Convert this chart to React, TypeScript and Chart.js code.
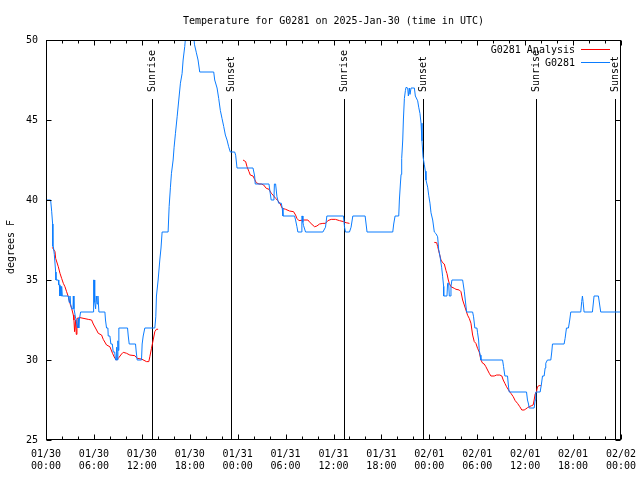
import React, { useEffect, useRef } from 'react';
import { Chart, registerables } from 'chart.js';

Chart.register(...registerables);

const FONT = '"DejaVu Sans Mono", "Liberation Mono", monospace';

const chartTitle = 'Temperature for G0281 on 2025-Jan-30 (time in UTC)';
const yAxisTitle = 'degrees F';

// x tick labels every 6 hours starting 01/30 00:00 UTC
const xTickLabels: string[][] = [
  ['01/30', '00:00'], ['01/30', '06:00'], ['01/30', '12:00'], ['01/30', '18:00'],
  ['01/31', '00:00'], ['01/31', '06:00'], ['01/31', '12:00'], ['01/31', '18:00'],
  ['02/01', '00:00'], ['02/01', '06:00'], ['02/01', '12:00'], ['02/01', '18:00'],
  ['02/02', '00:00'],
];

// sun events (hours since 01/30 00:00 UTC)
const eventLabels = ['Sunrise', 'Sunset', 'Sunrise', 'Sunset', 'Sunrise', 'Sunset'];
const eventHours = [13.31, 23.17, 37.35, 47.25, 61.36, 71.25];

// G0281 observations: [hours, degF]
const obsG0281: [number, number][] = [
  [0.0, 40], [0.58, 40], [0.71, 39.3], [0.83, 38.5], [0.86, 37.1], [0.92, 37.1], [1.04, 36.6],
  [1.21, 35.5], [1.25, 35], [1.54, 35], [1.6, 34.7], [1.67, 34.7], [1.75, 34], [1.83, 34.6],
  [1.9, 34], [1.96, 34.6], [2.04, 34], [2.79, 34], [2.9, 33.6], [3.0, 34], [3.08, 33.5],
  [3.21, 33.2], [3.38, 33.2], [3.42, 34], [3.5, 33.2], [3.58, 33], [3.71, 32.6], [3.96, 32],
  [4.04, 32.6], [4.1, 32], [4.17, 32.5], [4.33, 33], [5.92, 33], [5.96, 35], [6.04, 35],
  [6.1, 33.6], [6.21, 33.2], [6.3, 34], [6.4, 33.5], [6.5, 34], [6.625, 33], [7.375, 33],
  [7.45, 32.5], [7.58, 32], [7.75, 32], [7.79, 31.5], [8.0, 31.5], [8.125, 31], [8.3, 31],
  [8.42, 30.5], [8.6, 30.5], [8.71, 30], [8.8, 30], [8.85, 30.8], [8.92, 30], [9.0, 31.2],
  [9.05, 30.6], [9.125, 32], [10.21, 32], [10.3, 31.5], [10.42, 31], [11.21, 31], [11.3, 30.5],
  [11.42, 30], [11.96, 30], [12.04, 31], [12.17, 31.5], [12.375, 32], [13.625, 32], [13.75, 32.7],
  [13.83, 34], [14.04, 35], [14.25, 36.25], [14.4, 37], [14.54, 38], [15.29, 38], [15.42, 39.6],
  [15.58, 40.8], [15.71, 41.67], [15.92, 42.5], [16.04, 43.3], [16.21, 44.17], [16.42, 45.2],
  [16.625, 46.25], [16.83, 47.3], [17.04, 47.9], [17.17, 48.75], [17.375, 49.6], [17.5, 50.3],
  [17.8, 51], [18.2, 51], [18.5, 50.2], [18.6, 49.7], [18.83, 49.2], [19.04, 48.75], [19.25, 48],
  [21.0, 48], [21.125, 47.5], [21.42, 47], [21.625, 46.35], [21.83, 45.6], [22.04, 45.1],
  [22.25, 44.6], [22.46, 44.06], [22.67, 43.75], [22.875, 43.33], [23.08, 43], [23.625, 43],
  [23.75, 42.8], [23.92, 42], [25.92, 42], [26.125, 41.5], [26.2, 41], [27.92, 41], [28.08, 40.4],
  [28.2, 40], [28.54, 40], [28.6, 41], [28.75, 41], [28.92, 40.2], [29.125, 39.8], [29.46, 39.8],
  [29.58, 39.5], [29.67, 39], [31.125, 39], [31.25, 38.75], [31.42, 38.33], [31.54, 38], [31.96, 38],
  [32.04, 39], [32.1, 39], [32.17, 38.6], [32.25, 38.4], [32.5, 38], [34.67, 38], [35.0, 38.3],
  [35.17, 39], [37.25, 39], [37.375, 38.33], [37.5, 38], [38.0, 38], [38.2, 38.3], [38.42, 39],
  [39.96, 39], [40.2, 38], [43.42, 38], [43.54, 38.5], [43.71, 39], [44.17, 39], [44.25, 40],
  [44.375, 41], [44.46, 41.6], [44.54, 42.6], [44.67, 43.75], [44.75, 45], [44.875, 46.35],
  [45.0, 46.83], [45.08, 47.04], [45.29, 47], [45.375, 46.5], [45.5, 47], [45.58, 46.6], [45.71, 47],
  [46.125, 47], [46.25, 46.5], [46.54, 46.2], [46.67, 45.8], [46.83, 45.4], [46.96, 44.8],
  [47.08, 43.7], [47.21, 42.7], [47.375, 42.2], [47.5, 41.8], [47.58, 41.25], [47.79, 40.8],
  [47.92, 40.3], [48.08, 39.8], [48.21, 39.2], [48.42, 38.75], [48.625, 38], [48.83, 37.9],
  [49.04, 37.7], [49.17, 36.9], [49.33, 36.5], [49.54, 35.8], [49.67, 35.2], [49.79, 34.6],
  [49.8, 34], [50.21, 34], [50.29, 34.8], [50.42, 34.8], [50.5, 34], [50.625, 34], [50.71, 34.6],
  [50.83, 35], [52.17, 35], [52.375, 34.3], [52.5, 33.75], [52.67, 33], [53.42, 33], [53.54, 32.7],
  [53.7, 32], [53.96, 32], [54.04, 31.7], [54.17, 31.25], [54.25, 30.6], [54.375, 30.3], [54.46, 30],
  [57.17, 30], [57.29, 29.6], [57.46, 29], [57.79, 29], [57.92, 28.3], [58.0, 28], [60.17, 28],
  [60.29, 27.5], [60.42, 27.25], [60.5, 27], [61.125, 27], [61.25, 27.5], [61.33, 28], [61.875, 28],
  [62.04, 28.5], [62.17, 29], [62.375, 29], [62.5, 29.5], [62.58, 29.8], [62.79, 30], [63.21, 30],
  [63.33, 30.5], [63.42, 31], [64.875, 31], [65.0, 31.35], [65.17, 32], [65.42, 32], [65.58, 32.5],
  [65.71, 33], [66.96, 33], [67.08, 33.65], [67.17, 34], [67.25, 33.65], [67.375, 33], [68.42, 33],
  [68.625, 34], [69.17, 34], [69.46, 33], [72, 33],
];

// G0281 Analysis, three segments: [hours, degF]
const analysisDay1: [number, number][] = [
  [0.79, 37.04], [1.125, 36.77], [1.21, 36.35], [1.54, 35.83], [1.75, 35.42], [1.96, 35.1],
  [2.17, 34.79], [2.375, 34.58], [2.58, 34.27], [2.79, 33.96], [3.0, 33.54], [3.21, 33.23],
  [3.42, 32.81], [3.5, 32.5], [3.58, 31.77], [3.71, 32.5], [3.79, 31.6], [3.875, 32.6],
  [4.25, 32.65], [5.29, 32.54], [5.71, 32.5], [5.92, 32.25], [6.33, 31.875], [6.54, 31.67],
  [6.96, 31.56], [7.17, 31.29], [7.58, 30.94], [8.0, 30.83], [8.33, 30.42], [8.625, 30.1],
  [8.83, 30.0], [9.125, 30.15], [9.46, 30.375], [9.67, 30.48], [10.08, 30.42], [10.5, 30.31],
  [11.125, 30.27], [11.42, 30.1], [11.96, 30.06], [12.58, 29.9], [12.875, 29.9], [13.0, 30.2],
  [13.21, 30.73], [13.42, 31.25], [13.625, 31.77], [13.83, 31.92], [14.04, 31.92],
];
const analysisDay2: [number, number][] = [
  [24.67, 42.5], [25.0, 42.4], [25.17, 42.08], [25.42, 41.77], [25.58, 41.56], [25.92, 41.5],
  [26.125, 41.29], [26.33, 41.08], [26.67, 41.0], [26.96, 41.0], [27.25, 40.94], [27.58, 40.73],
  [27.92, 40.67], [28.21, 40.42], [28.42, 40.31], [28.75, 40.1], [29.04, 39.96], [29.33, 39.75],
  [29.58, 39.48], [30.0, 39.42], [30.5, 39.31], [31.0, 39.27], [31.25, 39.06], [31.42, 38.85],
  [31.67, 38.71], [32.25, 38.75], [32.79, 38.75], [33.08, 38.58], [33.625, 38.33], [33.92, 38.375],
  [34.25, 38.5], [34.67, 38.54], [35.0, 38.54], [35.29, 38.71], [35.71, 38.79], [36.25, 38.79],
  [36.75, 38.71], [37.25, 38.65], [37.58, 38.58], [38.0, 38.54],
];
const analysisDay3: [number, number][] = [
  [48.625, 37.35], [48.92, 37.33], [49.04, 37.1], [49.25, 36.67], [49.46, 36.25], [49.67, 36.08],
  [49.875, 36.0], [50.08, 35.6], [50.21, 35.4], [50.375, 35.0], [50.5, 34.79], [50.71, 34.58],
  [51.125, 34.48], [51.33, 34.42], [51.75, 34.375], [51.96, 34.27], [52.17, 33.75], [52.375, 33.44],
  [52.58, 33.125], [52.79, 32.8], [53.0, 32.6], [53.21, 32.3], [53.42, 31.56], [53.625, 31.15],
  [53.83, 31.04], [54.04, 30.73], [54.25, 30.5], [54.46, 30.0], [54.67, 29.8], [54.875, 29.75],
  [55.08, 29.58], [55.29, 29.375], [55.5, 29.17], [55.71, 29.0], [56.125, 29.0], [56.42, 29.06],
  [56.83, 29.06], [57.08, 29.0], [57.25, 28.75], [57.46, 28.54], [57.67, 28.33], [57.92, 28.125],
  [58.21, 27.92], [58.5, 27.71], [58.75, 27.46], [59.04, 27.29], [59.33, 27.08], [59.58, 26.875],
  [59.875, 26.875], [60.08, 26.94], [60.29, 27.02], [60.5, 27.08], [60.83, 27.15], [61.0, 27.19],
  [61.125, 27.5], [61.25, 27.875], [61.42, 28.02], [61.54, 28.33], [61.75, 28.4], [61.96, 28.4],
];

const yMin = 25;
const yMax = 50;

const toPts = (arr: [number, number][]) => arr.map(([x, y]) => ({ x, y }));
const analysisPts = [
  ...toPts(analysisDay1), { x: 14.5, y: null },
  ...toPts(analysisDay2), { x: 43, y: null },
  ...toPts(analysisDay3),
];

const gnuplotDecor = {
  id: 'gnuplotDecor',
  beforeDatasetsDraw(chart: any) {
    const { ctx, chartArea: a, scales } = chart;
    const x = scales.x;
    const y = scales.y;
    ctx.save();
    // title
    ctx.fillStyle = '#000';
    ctx.font = `10px ${FONT}`;
    ctx.textAlign = 'center';
    ctx.textBaseline = 'middle';
    ctx.fillText(chartTitle, (a.left + a.right) / 2, 21);
    // y axis title
    ctx.save();
    ctx.translate(11, (a.top + a.bottom) / 2 + 7);
    ctx.rotate(-Math.PI / 2);
    ctx.fillText(yAxisTitle, 0, 0);
    ctx.restore();
    // sun event lines + labels
    ctx.strokeStyle = '#000';
    ctx.lineWidth = 1;
    const lineTop = Math.round(y.getPixelForValue(yMin + 0.85 * (yMax - yMin))) - 1;
    const textY = y.getPixelForValue(yMin + 0.87 * (yMax - yMin));
    eventHours.forEach((h, i) => {
      const px = Math.round(x.getPixelForValue(h)) + 0.5;
      ctx.beginPath();
      ctx.moveTo(px, lineTop);
      ctx.lineTo(px, a.bottom);
      ctx.stroke();
      ctx.save();
      ctx.translate(px, textY);
      ctx.rotate(-Math.PI / 2);
      ctx.textAlign = 'left';
      ctx.textBaseline = 'middle';
      ctx.fillText(eventLabels[i], 0, 0);
      ctx.restore();
    });
    ctx.restore();
  },
  afterDatasetsDraw(chart: any) {
    const { ctx, chartArea: a, scales } = chart;
    const x = scales.x;
    const y = scales.y;
    ctx.save();
    ctx.strokeStyle = '#000';
    ctx.lineWidth = 1;
    const L = Math.round(a.left) + 0.5;
    const R = Math.round(a.right) - 0.5;
    const T = Math.round(a.top) + 0.5;
    const B = Math.round(a.bottom) - 0.5;
    ctx.strokeRect(L, T, R - L, B - T);
    ctx.beginPath();
    // x ticks (major every 6 h, minor every 2 h), bottom and top
    for (let h = 0; h <= 72; h += 2) {
      const px = Math.round(x.getPixelForValue(h)) + 0.5;
      const len = h % 6 === 0 ? 5 : 3;
      ctx.moveTo(px, B); ctx.lineTo(px, B - len);
      ctx.moveTo(px, T); ctx.lineTo(px, T + len);
    }
    // y ticks left and right
    y.ticks.forEach((t: any) => {
      const py = Math.round(y.getPixelForValue(t.value)) + 0.5;
      ctx.moveTo(L, py); ctx.lineTo(L + 5, py);
      ctx.moveTo(R, py); ctx.lineTo(R - 5, py);
    });
    ctx.stroke();
    // legend (inside top right)
    ctx.font = `10px ${FONT}`;
    ctx.textAlign = 'right';
    ctx.textBaseline = 'middle';
    ctx.fillStyle = '#000';
    const ds = [...chart.data.datasets].reverse();
    ds.forEach((d: any, i: number) => {
      const ty = 50 + i * 13;
      ctx.fillText(d.label, 575, ty);
      ctx.strokeStyle = d.borderColor;
      ctx.beginPath();
      ctx.moveTo(581, Math.round(ty) - 0.5);
      ctx.lineTo(610, Math.round(ty) - 0.5);
      ctx.stroke();
    });
    ctx.restore();
  },
};

export default function App() {
  const ref = useRef<HTMLCanvasElement>(null);
  useEffect(() => {
    const chart = new Chart(ref.current as HTMLCanvasElement, {
      type: 'line',
      data: {
        datasets: [
          {
            label: 'G0281',
            data: toPts(obsG0281),
            borderColor: '#0a7cff',
            borderWidth: 1,
            pointRadius: 0,
            tension: 0,
            fill: false,
          },
          {
            label: 'G0281 Analysis',
            data: analysisPts as any,
            borderColor: '#ff0000',
            borderWidth: 1,
            pointRadius: 0,
            tension: 0,
            fill: false,
            spanGaps: false,
          },
        ],
      },
      options: {
        responsive: false,
        devicePixelRatio: 1,
        animation: false,
        layout: { padding: { top: 40, right: 19, left: 0, bottom: 0 } },
        plugins: {
          legend: { display: false },
          title: { display: false },
          tooltip: { enabled: false },
        },
        scales: {
          x: {
            type: 'linear',
            min: 0,
            max: 72,
            grid: { display: false, drawTicks: false, tickLength: 0 },
            border: { display: false },
            afterFit: (s: any) => { s.height = 40; s.paddingLeft = 0; s.paddingRight = 0; },
            ticks: {
              stepSize: 6,
              autoSkip: false,
              maxRotation: 0,
              padding: 8,
              color: '#000',
              font: { family: FONT, size: 10, lineHeight: 1.25 },
              callback: (v: any) => xTickLabels[Math.round(Number(v) / 6)],
            },
          },
          y: {
            min: yMin,
            max: yMax,
            grid: { display: false, drawTicks: false, tickLength: 0 },
            border: { display: false },
            afterFit: (s: any) => { s.width = 46; s.paddingTop = 0; s.paddingBottom = 0; },
            ticks: {
              stepSize: 5,
              padding: 8,
              color: '#000',
              font: { family: FONT, size: 10 },
            },
          },
        },
      },
      plugins: [gnuplotDecor],
    } as any);
    return () => chart.destroy();
  }, []);
  return (
    <div style={{ position: 'fixed', left: 0, top: 0, width: 640, height: 480, background: '#fff' }}>
      <canvas ref={ref} width={640} height={480} style={{ display: 'block', width: 640, height: 480 }} />
    </div>
  );
}
